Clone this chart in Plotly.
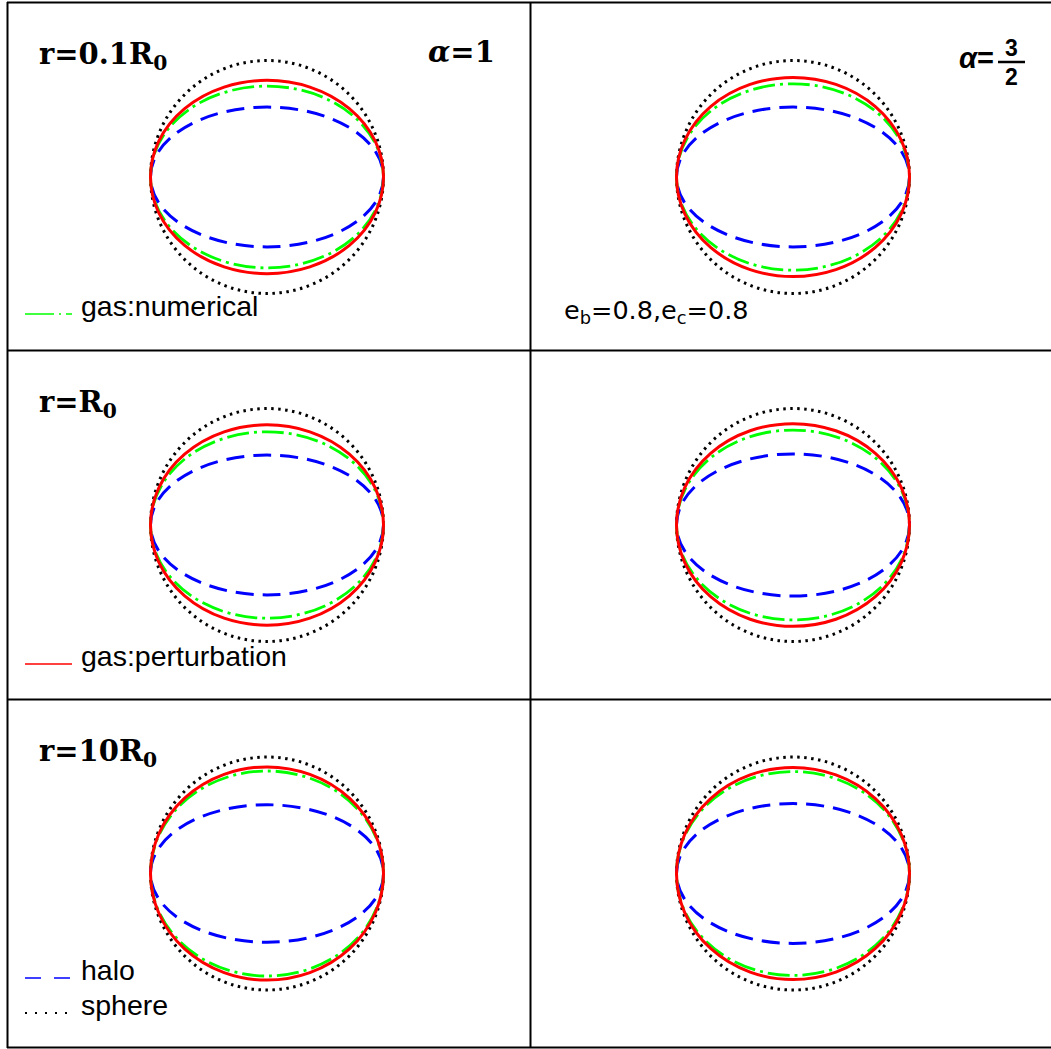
import plotly.graph_objects as go

W, H = 1051, 1049

# ---------------- data ----------------
radius_labels = ["r=0.1R<sub>0</sub>", "r=R<sub>0</sub>", "r=10R<sub>0</sub>"]
alpha_left_label = "<i>α</i>=1"
alpha_right_prefix = "<i>α</i>="
alpha_right_num = "3"
alpha_right_den = "2"
ecc_label = "e<sub>b</sub>=0.8,e<sub>c</sub>=0.8"
series_names = ["gas:numerical", "gas:perturbation", "halo", "sphere"]

# vertical / horizontal semi-axis ratio of each contour, panels in order
# [row1 left, row1 right, row2 left, row2 right, row3 left, row3 right]
sphere_ratio = [1.0, 1.0, 1.0, 1.0, 1.0, 1.0]
perturbation_ratio = [0.83, 0.855, 0.86, 0.87, 0.915, 0.91]
numerical_ratio = [0.78, 0.80, 0.80, 0.815, 0.88, 0.875]
halo_ratio = [0.60, 0.60, 0.60, 0.61, 0.59, 0.60]

# ---------------- layout geometry (pixels) ----------------
col_edges = [7, 530, 1051]
row_edges = [2, 350, 699, 1047]
col_centers = [267, 793]
row_centers = [177, 525, 873.5]
S = 116.5  # pixels per unit radius


def px(x):
    return x / W


def py(y):
    return 1 - y / H


styles = {
    "sphere": dict(color="black", width=3, dash="2.5px,4.5px"),
    "halo": dict(color="#0000ff", width=3, dash="18px,9px"),
    "numerical": dict(color="#00ff00", width=2.8, dash="22px,5px,3px,5px"),
    "perturbation": dict(color="#ff0000", width=3),
}

fig = go.Figure()
layout = dict(width=W, height=H, margin=dict(l=0, r=0, t=0, b=0),
              paper_bgcolor="white", plot_bgcolor="white", showlegend=False)
shapes = []
annotations = []

for k in range(6):
    r, c = divmod(k, 2)
    sfx = "" if k == 0 else str(k + 1)
    x0p, x1p = col_edges[c], col_edges[c + 1]
    y0p, y1p = row_edges[r], row_edges[r + 1]
    cx, cy = col_centers[c], row_centers[r]
    layout["xaxis" + sfx] = dict(domain=[px(x0p), px(x1p)],
                                 range=[(x0p - cx) / S, (x1p - cx) / S],
                                 visible=False, fixedrange=True, anchor="y" + sfx)
    layout["yaxis" + sfx] = dict(domain=[py(y1p), py(y0p)],
                                 range=[(cy - y1p) / S, (cy - y0p) / S],
                                 visible=False, fixedrange=True, anchor="x" + sfx)
    fig.add_trace(go.Scatter(x=[], y=[], xaxis="x" + sfx, yaxis="y" + sfx,
                             showlegend=False))
    for key, ratios in [("sphere", sphere_ratio), ("halo", halo_ratio),
                        ("numerical", numerical_ratio),
                        ("perturbation", perturbation_ratio)]:
        q = ratios[k]
        shapes.append(dict(type="circle", xref="x" + sfx, yref="y" + sfx,
                           x0=-1, x1=1, y0=-q, y1=q, line=styles[key],
                           layer="above"))

# panel frame
bw = 2
frame = [((7, 2.5), (1051, 2.5)), ((7, 1047.5), (1051, 1047.5)),
         ((7.5, 2), (7.5, 1048)), ((530.5, 2), (530.5, 1048)),
         ((7, 350.5), (1051, 350.5)), ((7, 699.5), (1051, 699.5))]
for (a, b) in frame:
    shapes.append(dict(type="line", xref="paper", yref="paper",
                       x0=px(a[0]), y0=py(a[1]), x1=px(b[0]), y1=py(b[1]),
                       line=dict(color="black", width=bw)))

LS = 29
label_font = dict(family="DejaVu Serif", size=LS, color="black", weight="bold")
# radius labels
for r, lab in enumerate(radius_labels):
    base = row_edges[r] + 60
    annotations.append(dict(text=lab, xref="paper", yref="paper",
                            x=px(37), y=py(base - 0.2 * LS), xanchor="left",
                            yanchor="middle", showarrow=False, font=label_font))
# alpha = 1
annotations.append(dict(text=alpha_left_label, xref="paper", yref="paper",
                        x=px(497), y=py(62 - 0.35 * LS), xanchor="right",
                        yanchor="middle", showarrow=False, font=label_font))
# alpha = 3/2 (stacked fraction)
frac_font = dict(family="Liberation Sans", size=23, color="black", weight="bold")
bar_y = 62
annotations.append(dict(text=alpha_right_prefix, xref="paper", yref="paper",
                        x=px(996), y=py(58), xanchor="right", yanchor="middle",
                        showarrow=False, font=dict(family="Liberation Sans", size=29,
                                                   color="black", weight="bold")))
annotations.append(dict(text=alpha_right_num, xref="paper", yref="paper",
                        x=px(1011.5), y=py(bar_y + 1), xanchor="center",
                        yanchor="bottom", showarrow=False, font=frac_font))
annotations.append(dict(text=alpha_right_den, xref="paper", yref="paper",
                        x=px(1011.5), y=py(bar_y), xanchor="center",
                        yanchor="top", showarrow=False, font=frac_font))
shapes.append(dict(type="line", xref="paper", yref="paper",
                   x0=px(998), x1=px(1025), y0=py(bar_y), y1=py(bar_y),
                   line=dict(color="black", width=2.5)))
# eccentricities
ES = 25.5
annotations.append(dict(text=ecc_label, xref="paper", yref="paper",
                        x=px(562), y=py(317 - 0.2 * ES), xanchor="left",
                        yanchor="middle", showarrow=False,
                        font=dict(family="DejaVu Sans", size=ES, color="black")))

# hand-placed legend entries
GS = 28.5
leg_font = dict(family="Liberation Sans", size=GS, color="black")
legend_items = [
    (series_names[0], 315, styles["numerical"], "29px,5px,2px,5px"),
    (series_names[1], 665, styles["perturbation"], None),
    (series_names[2], 979, styles["halo"], "16px,13px"),
    (series_names[3], 1014, styles["sphere"], "2px,8px"),
]
for name, base, st, dash in legend_items:
    ln = dict(color=st["color"], width=1.6 if name != "sphere" else 2)
    if dash:
        ln["dash"] = dash
    shapes.append(dict(type="line", xref="paper", yref="paper",
                       x0=px(25), x1=px(72), y0=py(base - 1), y1=py(base - 1),
                       line=ln))
    annotations.append(dict(text=name, xref="paper", yref="paper",
                            x=px(79), y=py(base - 0.33 * GS), xanchor="left",
                            yanchor="middle", showarrow=False, font=leg_font))

layout["shapes"] = shapes
layout["annotations"] = annotations
fig.update_layout(**layout)
fig.write_html("out.html")
